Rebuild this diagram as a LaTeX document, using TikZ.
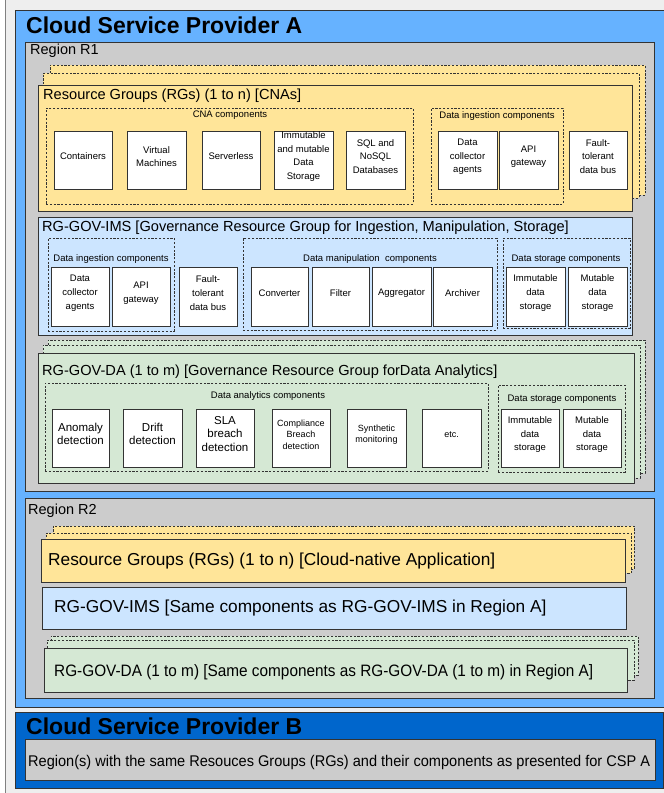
\documentclass[tikz,border=0pt]{standalone}
\usepackage{fontspec}
\setmainfont{Liberation Sans}
\usetikzlibrary{fit}
\definecolor{outerbg}{HTML}{EEEEEE}
\definecolor{cspa}{HTML}{66B2FF}
\definecolor{cspb}{HTML}{0066CC}
\definecolor{regbg}{HTML}{CCCCCC}
\definecolor{rgy}{HTML}{FFE599}
\definecolor{rgb}{HTML}{CCE5FF}
\definecolor{rgg}{HTML}{D5E8D4}
\definecolor{edge}{HTML}{333333}
\tikzset{
  frame/.style={draw=edge, line width=0.9pt, inner sep=0pt, outer sep=0pt},
  dbox/.style={draw=edge, line width=0.8pt, dash pattern=on 2.2pt off 1.6pt, inner sep=0pt, outer sep=0pt},
  comp/.style={frame, fill=white, align=center, font=\fontsize{9.5}{13.6}\selectfont},
  compbig/.style={comp, font=\fontsize{11.5}{13.5}\selectfont},
  compsmall/.style={comp, font=\fontsize{9}{11.5}\selectfont},
  grouplabel/.style={inner sep=0pt, font=\fontsize{9.5}{10}\selectfont},
  rgtitle/.style={anchor=west, inner sep=0pt, font=\fontsize{14.6}{17}\selectfont},
  rgtitlebig/.style={anchor=west, inner sep=0pt, font=\fontsize{17.3}{20}\selectfont},
  csptitle/.style={anchor=west, inner sep=0pt, font=\fontsize{23}{26}\selectfont\bfseries},
  regtitle/.style={anchor=west, inner sep=0pt, font=\fontsize{14.5}{16}\selectfont},
}
\newcommand\Bx[5]{\node[#1, fit={(#3) (#4)}] (#2) {#5};}
\begin{document}
\begin{tikzpicture}[x=1pt,y=-1pt]
\useasboundingbox (0,0) rectangle (664,793);
% outer frame
\Bx{frame, fill=outerbg, draw=gray}{outer}{5,-5}{672,800}{}
% CSP A
\Bx{frame, fill=cspa}{cspA}{15,10}{672,707}{}
\node[csptitle] (cspAt) at (26,25) {Cloud Service Provider A};
% Region R1
\Bx{frame, fill=regbg}{r1}{25,42}{654,491}{}
\node[regtitle] (r1t) at (30,51) {Region R1};
% RG stack (yellow)
\Bx{dbox, fill=rgy}{rgL3}{50,65}{645,195}{}
\Bx{dbox, fill=rgy}{rgL2}{43,73}{639,198}{}
\Bx{frame, fill=rgy}{rg}{38,85}{632,211}{}
\node[rgtitle] (rgt) at (43,96) {Resource Groups (RGs) (1 to n) [CNAs]};
\Bx{dbox}{cna}{46,108}{413,204}{}
\node[grouplabel] (cnat) at (230,115) {CNA components};
\Bx{comp}{c1}{54,131}{112,189}{Containers}
\Bx{comp}{c2}{127,131}{186,189}{Virtual\\Machines}
\Bx{comp}{c3}{202,131}{260,189}{Serverless}
\Bx{comp}{c4}{274,131}{333,189}{Immutable\\and mutable\\Data\\Storage}
\Bx{comp}{c5}{346,131}{405,189}{SQL and\\NoSQL\\Databases}
\Bx{dbox}{ing1}{431,108}{563,204}{}
\node[grouplabel] (ing1t) at (497,116) {Data ingestion components};
\Bx{comp}{i1}{438,131}{497,189}{Data\\collector\\agents}
\Bx{comp}{i2}{499,131}{558,189}{API\\gateway}
\Bx{comp}{i3}{569,131}{627,189}{Fault-\\tolerant\\data bus}
% RG-GOV-IMS (blue)
\Bx{frame, fill=rgb}{ims}{38,217}{632,335}{}
\node[rgtitle] (imst) at (42,228) {RG-GOV-IMS [Governance Resource Group for Ingestion, Manipulation, Storage]};
\Bx{dbox}{ing2}{48,238}{174,331}{}
\node[grouplabel] (ing2t) at (111,259) {Data ingestion components};
\Bx{comp}{j1}{51,267}{109,326}{Data\\collector\\agents}
\Bx{comp}{j2}{112,267}{170,326}{API\\gateway}
\Bx{comp}{j3}{179,267}{237,326}{Fault-\\tolerant\\data bus}
\Bx{dbox}{man}{243,238}{497,330}{}
\node[grouplabel] (mant) at (370,259) {Data manipulation\ \ components};
\Bx{comp}{m1}{251,267}{308,326}{Converter}
\Bx{comp}{m2}{312,267}{369,326}{Filter}
\Bx{comp}{m3}{372,267}{431,326}{Aggregator}
\Bx{comp}{m4}{433,267}{492,326}{Archiver}
\Bx{dbox}{st1}{503,238}{630,328}{}
\node[grouplabel] (st1t) at (566,259) {Data storage components};
\Bx{comp}{s1}{506,267}{565,326}{Immutable\\data\\storage}
\Bx{comp}{s2}{568,267}{627,326}{Mutable\\data\\storage}
% RG-GOV-DA stack (green)
\Bx{dbox, fill=rgg}{daL3}{48,340}{645,473}{}
\Bx{dbox, fill=rgg}{daL2}{43,345}{640,478}{}
\Bx{frame, fill=rgg}{da}{38,353}{634,483}{}
\node[rgtitle] (dat) at (42,372) {RG-GOV-DA (1 to m) [Governance Resource Group forData Analytics]};
\Bx{dbox}{ana}{45,383}{488,471}{}
\node[grouplabel] (anat) at (268,396) {Data analytics components};
\Bx{compbig}{a1}{52,409}{109,467}{Anomaly\\detection}
\Bx{compbig}{a2}{123,409}{182,467}{Drift\\detection}
\Bx{compbig}{a3}{196,409}{254,467}{SLA\\breach\\detection}
\Bx{compsmall}{a4}{272,409}{330,467}{Compliance\\Breach\\detection}
\Bx{compsmall}{a5}{347,409}{406,467}{Synthetic\\monitoring}
\Bx{compsmall}{a6}{422,409}{481,467}{etc.}
\Bx{dbox}{st2}{498,385}{625,472}{}
\node[grouplabel] (st2t) at (562,399) {Data storage components};
\Bx{comp}{s3}{501,409}{559,467}{Immutable\\data\\storage}
\Bx{comp}{s4}{563,409}{621,467}{Mutable\\data\\storage}
% Region R2
\Bx{frame, fill=regbg}{r2}{25,498}{654,698}{}
\node[regtitle] (r2t) at (28,511) {Region R2};
\Bx{dbox, fill=rgy}{rg2L3}{53,526}{634,569}{}
\Bx{dbox, fill=rgy}{rg2L2}{46,533}{631,573}{}
\Bx{frame, fill=rgy}{rg2}{41,539}{625,582}{}
\node[rgtitlebig] (rg2t) at (48,561) {Resource Groups (RGs) (1 to n) [Cloud-native Application]};
\Bx{frame, fill=rgb}{ims2}{42,587}{626,629}{}
\node[rgtitlebig] (ims2t) at (54,608) {RG-GOV-IMS [Same components as RG-GOV-IMS in Region A]};
\Bx{dbox, fill=rgg}{da2L3}{51,636}{638,675}{}
\Bx{dbox, fill=rgg}{da2L2}{47,640}{634,680}{}
\Bx{frame, fill=rgg}{da2}{44,648}{627,692}{}
\node[rgtitle, font=\fontsize{16.5}{19}\selectfont, xscale=0.93, anchor=west] (da2t) at (54,672) {RG-GOV-DA (1 to m) [Same components as RG-GOV-DA (1 to m) in Region A]};
% CSP B
\Bx{frame, fill=cspb}{cspB}{15,712}{663,788}{}
\node[csptitle] (cspBt) at (26,726) {Cloud Service Provider B};
\Bx{frame, fill=regbg}{r3}{25,739}{655,780}{}
\node[anchor=west, inner sep=0pt, font=\fontsize{15.5}{18}\selectfont, xscale=0.94] (r3t) at (28,762) {Region(s) with the same Resouces Groups (RGs) and their components as presented for CSP A};
\end{tikzpicture}
\end{document}
